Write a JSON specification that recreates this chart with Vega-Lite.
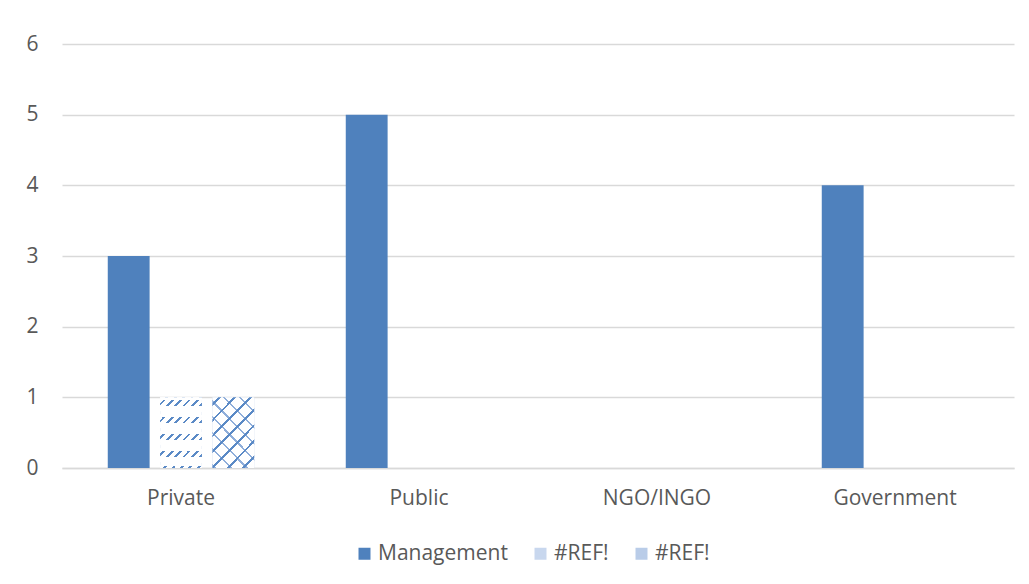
{
  "$schema": "https://vega.github.io/schema/vega-lite/v6.json",
  "width": 952,
  "height": 424,
  "autosize": "none",
  "padding": {"left": 62, "top": 44, "right": 15, "bottom": 116},
  "background": "white",
  "config": {"view": {"stroke": null}, "font": "Open Sans"},
  "data": {
    "values": [
      {"sector": "Private", "series": "Management", "value": 3},
      {"sector": "Private", "series": "#REF!a", "value": 1},
      {"sector": "Private", "series": "#REF!b", "value": 1},
      {"sector": "Public", "series": "Management", "value": 5},
      {"sector": "Public", "series": "#REF!a", "value": 0},
      {"sector": "Public", "series": "#REF!b", "value": 0},
      {"sector": "NGO/INGO", "series": "Management", "value": 0},
      {"sector": "NGO/INGO", "series": "#REF!a", "value": 0},
      {"sector": "NGO/INGO", "series": "#REF!b", "value": 0},
      {"sector": "Government", "series": "Management", "value": 4},
      {"sector": "Government", "series": "#REF!a", "value": 0},
      {"sector": "Government", "series": "#REF!b", "value": 0}
    ]
  },
  "encoding": {
    "x": {
      "field": "sector", "type": "nominal",
      "sort": ["Private", "Public", "NGO/INGO", "Government"],
      "scale": {"paddingInner": 0, "paddingOuter": 0},
      "axis": {"title": null, "labelAngle": 0, "labelFontSize": 21, "labelColor": "#595959", "ticks": false, "domainColor": "#D9D9D9", "domainWidth": 1.3, "labelPadding": 19}
    },
    "xOffset": {
      "field": "series", "type": "nominal",
      "scale": {"domain": ["Management", "#REF!a", "#REF!b"], "paddingInner": 0.2, "paddingOuter": 0.875}
    },
    "y": {
      "field": "value", "type": "quantitative",
      "scale": {"domain": [0, 6]},
      "axis": {"title": null, "values": [0, 1, 2, 3, 4, 5, 6], "ticks": false, "domain": false, "gridColor": "#D9D9D9", "gridWidth": 1.3, "labelFontSize": 21, "labelColor": "#595959", "labelPadding": 24}
    }
  },
  "layer": [
    {
      "mark": {"type": "bar"},
      "encoding": {
        "color": {
          "field": "series", "type": "nominal",
          "scale": {"domain": ["Management", "#REF!a", "#REF!b"], "range": ["#4F81BD", "#C8D7EE", "#B9CCE8"]},
          "legend": {
            "title": null, "orient": "none", "legendX": 292, "legendY": 499, "direction": "horizontal",
            "symbolType": "square", "symbolSize": 144, "symbolStrokeWidth": 0,
            "labelFontSize": 21, "labelColor": "#595959", "labelOffset": 3, "columnPadding": 22,
            "labelExpr": "datum.label == 'Management' ? 'Management' : '#REF!'"
          }
        }
      }
    },
    {
      "transform": [{"filter": "datum.series == '#REF!a'"}],
      "mark": {"type": "bar", "fill": {"gradient": "linear", "x1": 0, "y1": 0, "x2": 0.706, "y2": 1.176, "stops": [
        {"offset": 0, "color": "#ffffff"}, {"offset": 0.05, "color": "#ffffff"}, {"offset": 0.05, "color": "#5B8AC6"}, {"offset": 0.075, "color": "#5B8AC6"},
        {"offset": 0.075, "color": "#ffffff"}, {"offset": 0.125, "color": "#ffffff"}, {"offset": 0.125, "color": "#5B8AC6"}, {"offset": 0.15, "color": "#5B8AC6"},
        {"offset": 0.15, "color": "#ffffff"}, {"offset": 0.2, "color": "#ffffff"}, {"offset": 0.2, "color": "#5B8AC6"}, {"offset": 0.225, "color": "#5B8AC6"},
        {"offset": 0.225, "color": "#ffffff"}, {"offset": 0.275, "color": "#ffffff"}, {"offset": 0.275, "color": "#5B8AC6"}, {"offset": 0.3, "color": "#5B8AC6"},
        {"offset": 0.3, "color": "#ffffff"}, {"offset": 0.35, "color": "#ffffff"}, {"offset": 0.35, "color": "#5B8AC6"}, {"offset": 0.375, "color": "#5B8AC6"},
        {"offset": 0.375, "color": "#ffffff"}, {"offset": 0.425, "color": "#ffffff"}, {"offset": 0.425, "color": "#5B8AC6"}, {"offset": 0.45, "color": "#5B8AC6"},
        {"offset": 0.45, "color": "#ffffff"}, {"offset": 0.5, "color": "#ffffff"}, {"offset": 0.5, "color": "#5B8AC6"}, {"offset": 0.525, "color": "#5B8AC6"},
        {"offset": 0.525, "color": "#ffffff"}, {"offset": 0.575, "color": "#ffffff"}, {"offset": 0.575, "color": "#5B8AC6"}, {"offset": 0.6, "color": "#5B8AC6"},
        {"offset": 0.6, "color": "#ffffff"}, {"offset": 0.65, "color": "#ffffff"}, {"offset": 0.65, "color": "#5B8AC6"}, {"offset": 0.675, "color": "#5B8AC6"},
        {"offset": 0.675, "color": "#ffffff"}, {"offset": 0.725, "color": "#ffffff"}, {"offset": 0.725, "color": "#5B8AC6"}, {"offset": 0.75, "color": "#5B8AC6"},
        {"offset": 0.75, "color": "#ffffff"}, {"offset": 0.8, "color": "#ffffff"}, {"offset": 0.8, "color": "#5B8AC6"}, {"offset": 0.825, "color": "#5B8AC6"},
        {"offset": 0.825, "color": "#ffffff"}, {"offset": 0.875, "color": "#ffffff"}, {"offset": 0.875, "color": "#5B8AC6"}, {"offset": 0.9, "color": "#5B8AC6"},
        {"offset": 0.9, "color": "#ffffff"}, {"offset": 0.95, "color": "#ffffff"}, {"offset": 0.95, "color": "#5B8AC6"}, {"offset": 0.975, "color": "#5B8AC6"},
        {"offset": 0.975, "color": "#ffffff"}, {"offset": 1, "color": "#ffffff"}
      ]}}
    },
    {
      "transform": [{"filter": "datum.series == '#REF!a'"}],
      "mark": {"type": "bar", "fill": {"gradient": "linear", "x1": 0, "y1": 0, "x2": 0, "y2": 1, "stops": [
        {"offset": 0, "color": "#ffffff"}, {"offset": 0.04, "color": "#ffffff"},
        {"offset": 0.04, "color": "rgba(255,255,255,0)"}, {"offset": 0.125, "color": "rgba(255,255,255,0)"},
        {"offset": 0.125, "color": "#ffffff"}, {"offset": 0.28, "color": "#ffffff"},
        {"offset": 0.28, "color": "rgba(255,255,255,0)"}, {"offset": 0.365, "color": "rgba(255,255,255,0)"},
        {"offset": 0.365, "color": "#ffffff"}, {"offset": 0.52, "color": "#ffffff"},
        {"offset": 0.52, "color": "rgba(255,255,255,0)"}, {"offset": 0.605, "color": "rgba(255,255,255,0)"},
        {"offset": 0.605, "color": "#ffffff"}, {"offset": 0.76, "color": "#ffffff"},
        {"offset": 0.76, "color": "rgba(255,255,255,0)"}, {"offset": 0.845, "color": "rgba(255,255,255,0)"},
        {"offset": 0.845, "color": "#ffffff"}, {"offset": 0.97, "color": "#ffffff"},
        {"offset": 0.97, "color": "rgba(255,255,255,0)"}, {"offset": 1, "color": "rgba(255,255,255,0)"}
      ]}}
    },
    {
      "transform": [{"filter": "datum.series == '#REF!b'"}],
      "mark": {"type": "bar", "fill": {"gradient": "linear", "x1": 1, "y1": 0, "x2": 0.294, "y2": 1.176, "stops": [
        {"offset": 0, "color": "#ffffff"}, {"offset": 0.12, "color": "#ffffff"}, {"offset": 0.12, "color": "#8FAEDA"}, {"offset": 0.14, "color": "#8FAEDA"},
        {"offset": 0.14, "color": "#ffffff"}, {"offset": 0.26, "color": "#ffffff"}, {"offset": 0.26, "color": "#8FAEDA"}, {"offset": 0.28, "color": "#8FAEDA"},
        {"offset": 0.28, "color": "#ffffff"}, {"offset": 0.4, "color": "#ffffff"}, {"offset": 0.4, "color": "#8FAEDA"}, {"offset": 0.42, "color": "#8FAEDA"},
        {"offset": 0.42, "color": "#ffffff"}, {"offset": 0.54, "color": "#ffffff"}, {"offset": 0.54, "color": "#8FAEDA"}, {"offset": 0.56, "color": "#8FAEDA"},
        {"offset": 0.56, "color": "#ffffff"}, {"offset": 0.68, "color": "#ffffff"}, {"offset": 0.68, "color": "#8FAEDA"}, {"offset": 0.7, "color": "#8FAEDA"},
        {"offset": 0.7, "color": "#ffffff"}, {"offset": 0.82, "color": "#ffffff"}, {"offset": 0.82, "color": "#8FAEDA"}, {"offset": 0.84, "color": "#8FAEDA"},
        {"offset": 0.84, "color": "#ffffff"}, {"offset": 0.96, "color": "#ffffff"}, {"offset": 0.96, "color": "#8FAEDA"}, {"offset": 0.98, "color": "#8FAEDA"},
        {"offset": 0.98, "color": "#ffffff"}, {"offset": 1, "color": "#ffffff"}
      ]}}
    },
    {
      "transform": [{"filter": "datum.series == '#REF!b'"}],
      "mark": {"type": "bar", "fill": {"gradient": "linear", "x1": 0, "y1": 0, "x2": 0.706, "y2": 1.176, "stops": [
        {"offset": 0, "color": "rgba(255,255,255,0)"}, {"offset": 0.05, "color": "rgba(255,255,255,0)"}, {"offset": 0.05, "color": "#5B8AC6"}, {"offset": 0.075, "color": "#5B8AC6"},
        {"offset": 0.075, "color": "rgba(255,255,255,0)"}, {"offset": 0.19, "color": "rgba(255,255,255,0)"}, {"offset": 0.19, "color": "#5B8AC6"}, {"offset": 0.215, "color": "#5B8AC6"},
        {"offset": 0.215, "color": "rgba(255,255,255,0)"}, {"offset": 0.33, "color": "rgba(255,255,255,0)"}, {"offset": 0.33, "color": "#5B8AC6"}, {"offset": 0.355, "color": "#5B8AC6"},
        {"offset": 0.355, "color": "rgba(255,255,255,0)"}, {"offset": 0.47, "color": "rgba(255,255,255,0)"}, {"offset": 0.47, "color": "#5B8AC6"}, {"offset": 0.495, "color": "#5B8AC6"},
        {"offset": 0.495, "color": "rgba(255,255,255,0)"}, {"offset": 0.61, "color": "rgba(255,255,255,0)"}, {"offset": 0.61, "color": "#5B8AC6"}, {"offset": 0.635, "color": "#5B8AC6"},
        {"offset": 0.635, "color": "rgba(255,255,255,0)"}, {"offset": 0.75, "color": "rgba(255,255,255,0)"}, {"offset": 0.75, "color": "#5B8AC6"}, {"offset": 0.775, "color": "#5B8AC6"},
        {"offset": 0.775, "color": "rgba(255,255,255,0)"}, {"offset": 0.89, "color": "rgba(255,255,255,0)"}, {"offset": 0.89, "color": "#5B8AC6"}, {"offset": 0.915, "color": "#5B8AC6"},
        {"offset": 0.915, "color": "rgba(255,255,255,0)"}, {"offset": 1, "color": "rgba(255,255,255,0)"}
      ]}}
    }
  ]
}
